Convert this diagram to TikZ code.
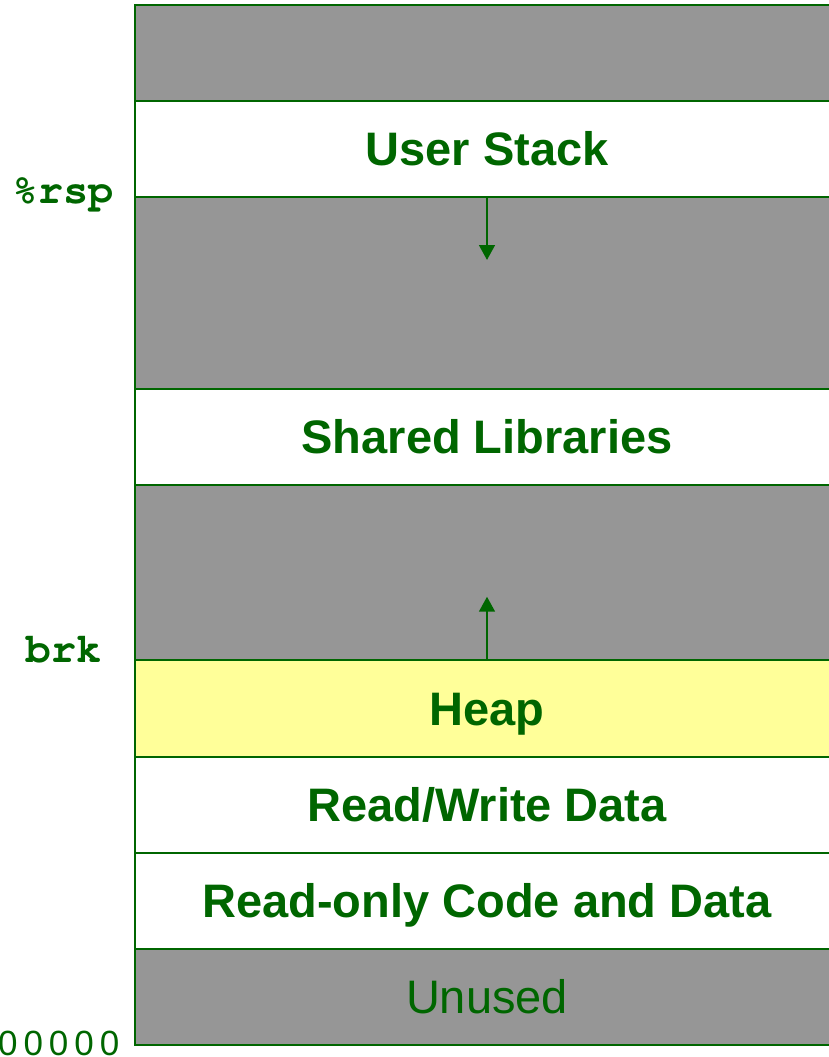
\documentclass[tikz,border=0pt]{standalone}
\usepackage[T1]{fontenc}
\usepackage{fontspec}
\setmainfont{Liberation Sans}
\usetikzlibrary{arrows.meta}

\definecolor{memgreen}{RGB}{0,102,0}
\definecolor{memgray}{RGB}{150,150,150}
\definecolor{heapyellow}{RGB}{255,255,153}

\newcommand{\bandfont}{\fontsize{47}{56}\selectfont\bfseries}
\newcommand{\regfont}{\fontsize{42}{50}\usefont{T1}{pcr}{b}{n}}

\tikzset{
  band/.style={draw=memgreen, line width=2pt, fill=white,
    minimum width=704pt, inner sep=0pt,
    text height=33.6pt, text depth=0pt, text=memgreen, font=\bandfont},
  freeband/.style={band, fill=memgray},
  heapband/.style={band, fill=heapyellow},
  ptrarrow/.style={draw=memgreen, line width=2.5pt,
    -{Triangle[width=15.7pt,length=15pt]}},
  reglabel/.style={text=memgreen, inner sep=0pt, font=\regfont, anchor=base},
  addrlabel/.style={text=memgreen, inner sep=0pt, anchor=base east,
    font=\fontsize{35}{42}\selectfont\addfontfeature{LetterSpace=17}},
}

\begin{document}
\begin{tikzpicture}[x=1pt, y=-1pt]
  \useasboundingbox (0,0) rectangle (828,1057);

  % address space, from the top down
  \node[freeband, minimum height=95.7pt] (top)    at (487,52.85)  {};
  \node[band,     minimum height=96pt]   (stack)  at (487,148.7)  {User Stack};
  \node[freeband, minimum height=192pt]  (gapa)   at (487,292.7)  {};
  \node[band,     minimum height=96pt]   (shlib)  at (487,436.7)  {Shared Libraries};
  \node[freeband, minimum height=175.3pt](gapb)   at (487,572.35) {};
  \node[heapband, minimum height=96.7pt] (heap)   at (487,708.35) {Heap};
  \node[band,     minimum height=96pt]   (rwdata) at (487,804.7)  {Read/Write Data};
  \node[band,     minimum height=96.3pt] (rocode) at (487,900.85) {Read-only Code and Data};
  \node[freeband, minimum height=95.5pt, font=\fontsize{47}{56}\selectfont]
                                         (unused) at (487,996.75) {Unused};

  % growth directions of stack and heap
  \coordinate (stacktip) at (487,260);
  \coordinate (heaptip)  at (487,596.7);
  \draw[ptrarrow] (stack.south) -- (stacktip);
  \draw[ptrarrow] (heap.north) -- (heaptip);

  % register / address labels
  \node[reglabel] (rsp) at (63,203) {\%rsp};
  \node[reglabel] (brk) at (63.5,662) {brk};
  \node[addrlabel] (zero) at (119.5,1055) {00000};
\end{tikzpicture}
\end{document}
